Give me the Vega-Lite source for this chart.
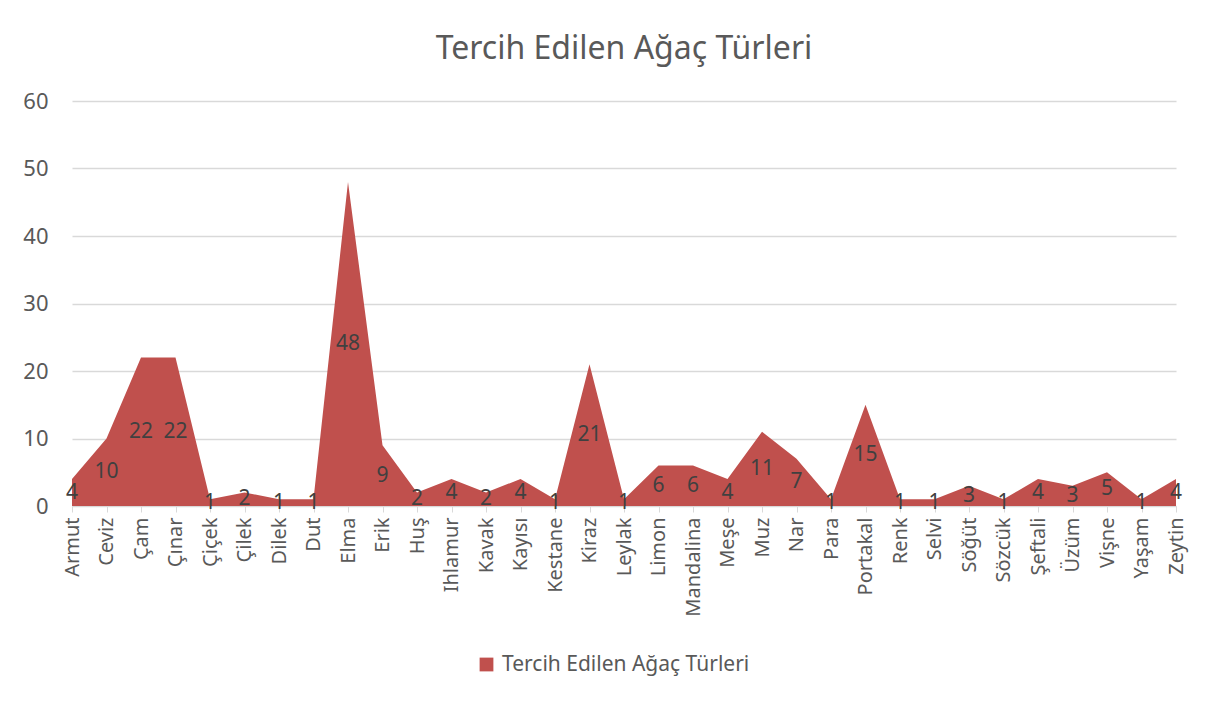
{
  "$schema": "https://vega.github.io/schema/vega-lite/v6.json",
  "width": 1104,
  "height": 405,
  "autosize": {"type": "none"},
  "padding": {"left": 72, "top": 101, "right": 32, "bottom": 200},
  "background": "white",
  "config": {
    "font": "Noto Sans",
    "view": {"stroke": null}
  },
  "title": {
    "text": "Tercih Edilen Ağaç Türleri",
    "fontSize": 32,
    "fontWeight": "normal",
    "color": "#595959",
    "anchor": "middle",
    "frame": "group",
    "offset": 24
  },
  "data": {
    "values": [
      {"tur": "Armut", "sayi": 4, "seri": "Tercih Edilen Ağaç Türleri"},
      {"tur": "Ceviz", "sayi": 10, "seri": "Tercih Edilen Ağaç Türleri"},
      {"tur": "Çam", "sayi": 22, "seri": "Tercih Edilen Ağaç Türleri"},
      {"tur": "Çınar", "sayi": 22, "seri": "Tercih Edilen Ağaç Türleri"},
      {"tur": "Çiçek", "sayi": 1, "seri": "Tercih Edilen Ağaç Türleri"},
      {"tur": "Çilek", "sayi": 2, "seri": "Tercih Edilen Ağaç Türleri"},
      {"tur": "Dilek", "sayi": 1, "seri": "Tercih Edilen Ağaç Türleri"},
      {"tur": "Dut", "sayi": 1, "seri": "Tercih Edilen Ağaç Türleri"},
      {"tur": "Elma", "sayi": 48, "seri": "Tercih Edilen Ağaç Türleri"},
      {"tur": "Erik", "sayi": 9, "seri": "Tercih Edilen Ağaç Türleri"},
      {"tur": "Huş", "sayi": 2, "seri": "Tercih Edilen Ağaç Türleri"},
      {"tur": "Ihlamur", "sayi": 4, "seri": "Tercih Edilen Ağaç Türleri"},
      {"tur": "Kavak", "sayi": 2, "seri": "Tercih Edilen Ağaç Türleri"},
      {"tur": "Kayısı", "sayi": 4, "seri": "Tercih Edilen Ağaç Türleri"},
      {"tur": "Kestane", "sayi": 1, "seri": "Tercih Edilen Ağaç Türleri"},
      {"tur": "Kiraz", "sayi": 21, "seri": "Tercih Edilen Ağaç Türleri"},
      {"tur": "Leylak", "sayi": 1, "seri": "Tercih Edilen Ağaç Türleri"},
      {"tur": "Limon", "sayi": 6, "seri": "Tercih Edilen Ağaç Türleri"},
      {"tur": "Mandalina", "sayi": 6, "seri": "Tercih Edilen Ağaç Türleri"},
      {"tur": "Meşe", "sayi": 4, "seri": "Tercih Edilen Ağaç Türleri"},
      {"tur": "Muz", "sayi": 11, "seri": "Tercih Edilen Ağaç Türleri"},
      {"tur": "Nar", "sayi": 7, "seri": "Tercih Edilen Ağaç Türleri"},
      {"tur": "Para", "sayi": 1, "seri": "Tercih Edilen Ağaç Türleri"},
      {"tur": "Portakal", "sayi": 15, "seri": "Tercih Edilen Ağaç Türleri"},
      {"tur": "Renk", "sayi": 1, "seri": "Tercih Edilen Ağaç Türleri"},
      {"tur": "Selvi", "sayi": 1, "seri": "Tercih Edilen Ağaç Türleri"},
      {"tur": "Söğüt", "sayi": 3, "seri": "Tercih Edilen Ağaç Türleri"},
      {"tur": "Sözcük", "sayi": 1, "seri": "Tercih Edilen Ağaç Türleri"},
      {"tur": "Şeftali", "sayi": 4, "seri": "Tercih Edilen Ağaç Türleri"},
      {"tur": "Üzüm", "sayi": 3, "seri": "Tercih Edilen Ağaç Türleri"},
      {"tur": "Vişne", "sayi": 5, "seri": "Tercih Edilen Ağaç Türleri"},
      {"tur": "Yaşam", "sayi": 1, "seri": "Tercih Edilen Ağaç Türleri"},
      {"tur": "Zeytin", "sayi": 4, "seri": "Tercih Edilen Ağaç Türleri"}
    ]
  },
  "encoding": {
    "x": {
      "field": "tur",
      "type": "nominal",
      "sort": null,
      "scale": {"type": "point", "padding": 0},
      "axis": {
        "title": null,
        "labelAngle": -90,
        "labelFontSize": 20,
        "labelColor": "#595959",
        "labelPadding": 5,
        "labelAlign": "right",
        "labelBaseline": "middle",
        "labelLimit": 0,
        "domainColor": "#d9d9d9",
        "tickColor": "#d9d9d9",
        "tickSize": 6,
        "grid": false
      }
    }
  },
  "layer": [
    {
      "mark": {"type": "area", "interpolate": "linear"},
      "encoding": {
        "y": {
          "field": "sayi",
          "type": "quantitative",
          "scale": {"domain": [0, 60]},
          "axis": {
            "title": null,
            "values": [0, 10, 20, 30, 40, 50, 60],
            "labelFontSize": 22,
            "labelColor": "#595959",
            "labelPadding": 24,
            "domain": false,
            "ticks": false,
            "gridColor": "#d9d9d9",
            "gridWidth": 1.5
          }
        },
        "color": {
          "field": "seri",
          "type": "nominal",
          "scale": {"range": ["#C0504D"]},
          "legend": {
            "title": null,
            "orient": "none",
            "legendX": 404,
            "legendY": 553,
            "symbolType": "square",
            "symbolSize": 190,
            "symbolOpacity": 1,
            "labelFontSize": 21,
            "labelColor": "#595959",
            "labelOffset": 5,
            "labelLimit": 0
          }
        }
      }
    },
    {
      "transform": [{"calculate": "datum.sayi / 2", "as": "orta"}],
      "mark": {"type": "text", "fontSize": 21, "color": "#404040", "baseline": "middle", "align": "center"},
      "encoding": {
        "y": {"field": "orta", "type": "quantitative"},
        "text": {"field": "sayi", "type": "quantitative"}
      }
    }
  ]
}
